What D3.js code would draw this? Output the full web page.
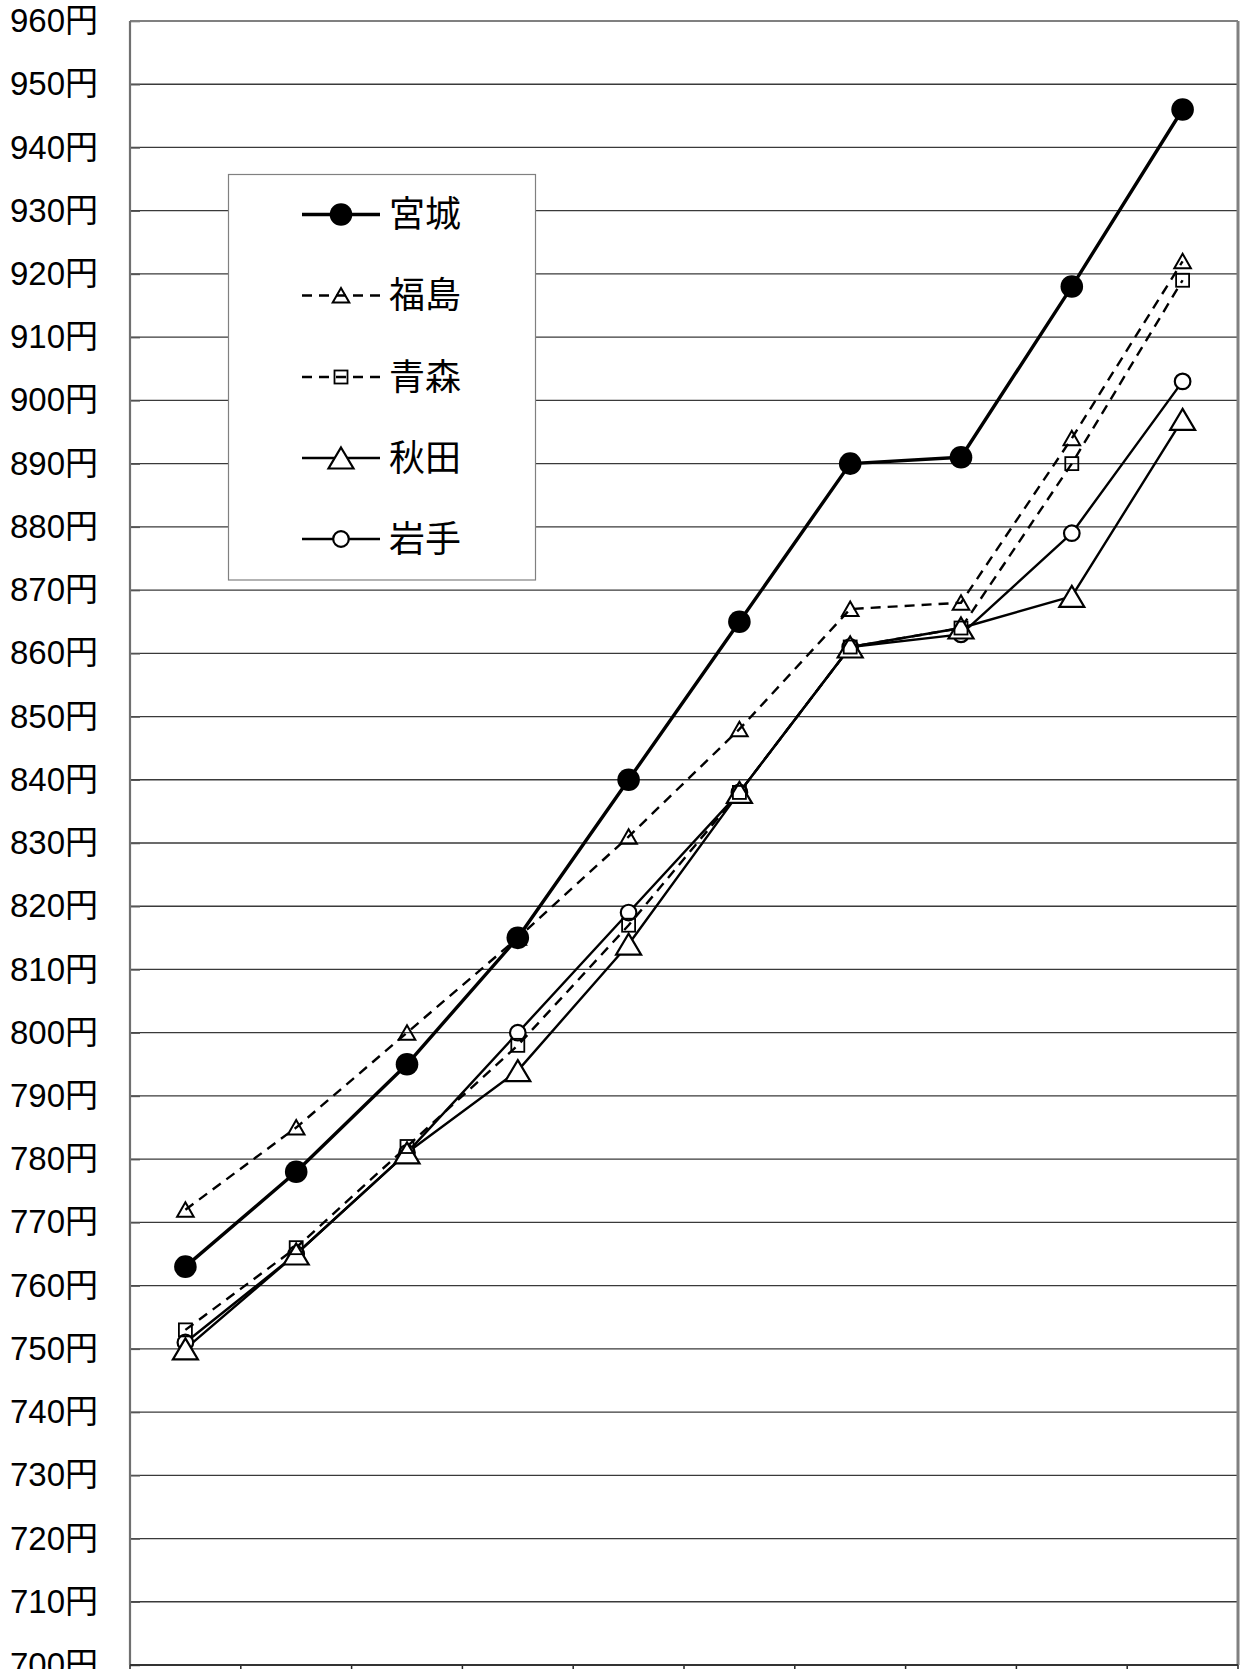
<!DOCTYPE html>
<html><head><meta charset="utf-8">
<script src="https://cdn.jsdelivr.net/npm/d3@7"></script>
<style>html,body{margin:0;padding:0;background:#fff} svg{display:block}</style>
</head><body><svg id="chart" width="1243" height="1669"></svg>
<script>
// ---- data ----
const categories = ["1","2","3","4","5","6","7","8","9","10"];
const miyagi    = [763,778,795,815,840,865,890,891,918,946];
const fukushima = [772,785,800,815,831,848,867,868,894,922];
const aomori    = [753,766,782,798,817,838,861,864,890,919];
const akita     = [750,765,781,794,814,838,861,864,869,897];
const iwate     = [751,765,781,800,819,838,861,863,879,903];
const seriesNames = ["宮城","福島","青森","秋田","岩手"];
const yTickValues = [700,710,720,730,740,750,760,770,780,790,800,810,820,830,840,850,860,870,880,890,900,910,920,930,940,950,960];
const yUnit = "円";

(function () {
// ---- styles ----
const seriesData = [miyagi, fukushima, aomori, akita, iwate];
const styles = [
  {width:3.4, dash:null,   marker:"bigdot"},
  {width:2.4, dash:"10,7", marker:"smalltri"},
  {width:2.4, dash:"10,7", marker:"square"},
  {width:2.4, dash:null,   marker:"bigtri"},
  {width:2.4, dash:null,   marker:"circle"}
];

const svg = d3.select("#chart");
const pL = 130, pR = 1238, pT = 21, pB = 1665;

const x = d3.scaleBand().domain(categories).range([pL, pR]).padding(0);
const y = d3.scaleLinear().domain([700, 960]).range([pB, pT]);
const cx = c => x(c) + x.bandwidth() / 2;

// gridlines
svg.append("g").selectAll("line").data(yTickValues.filter(v => v > 700 && v < 960))
  .join("line")
  .attr("x1", pL).attr("x2", pR)
  .attr("y1", d => y(d)).attr("y2", d => y(d))
  .attr("stroke", "#3a3a3a").attr("stroke-width", 1.3);

// y axis (labels + inner ticks)
const yAxis = d3.axisLeft(y).tickValues(yTickValues).tickFormat(d => d + yUnit)
  .tickSizeInner(-10).tickSizeOuter(0).tickPadding(32);
const gy = svg.append("g").attr("transform", `translate(${pL},0)`).call(yAxis);
gy.select(".domain").remove();
gy.selectAll(".tick line").attr("stroke", "#555").attr("stroke-width", 1.5);
gy.selectAll(".tick text")
  .attr("font-family", "'Liberation Sans','Noto Sans CJK JP',sans-serif")
  .attr("font-size", 33).attr("fill", "#000");

// frame
svg.append("line").attr("x1", pL).attr("x2", pR).attr("y1", pT).attr("y2", pT)
  .attr("stroke", "#808080").attr("stroke-width", 2);
svg.append("line").attr("x1", pR).attr("x2", pR).attr("y1", pT).attr("y2", pB)
  .attr("stroke", "#808080").attr("stroke-width", 3);
svg.append("line").attr("x1", pL).attr("x2", pL).attr("y1", pT).attr("y2", pB)
  .attr("stroke", "#707070").attr("stroke-width", 2.2);

// x axis (category boundary ticks, labels fall below the visible area)
const boundaries = categories.map(c => x(c)).concat([pR]);
svg.append("g").selectAll("line").data(boundaries).join("line")
  .attr("x1", d => d).attr("x2", d => d).attr("y1", pB).attr("y2", pB + 12)
  .attr("stroke", "#222").attr("stroke-width", 1.5);
svg.append("line").attr("x1", pL).attr("x2", pR).attr("y1", pB).attr("y2", pB)
  .attr("stroke", "#333").attr("stroke-width", 2);

// markers
function drawMarker(g, type, px, py) {
  if (type === "bigdot") {
    g.append("circle").attr("cx", px).attr("cy", py).attr("r", 11.3).attr("fill", "#000");
  } else if (type === "smalltri") {
    g.append("path").attr("d", `M${px},${py-7.5}L${px+8.3},${py+7}L${px-8.3},${py+7}Z`)
      .attr("fill", "none").attr("stroke", "#000").attr("stroke-width", 2);
  } else if (type === "square") {
    g.append("rect").attr("x", px-6.5).attr("y", py-6.5).attr("width", 13).attr("height", 13)
      .attr("fill", "none").attr("stroke", "#000").attr("stroke-width", 1.8);
  } else if (type === "bigtri") {
    g.append("path").attr("d", `M${px},${py-10.5}L${px+12.5},${py+10.5}L${px-12.5},${py+10.5}Z`)
      .attr("fill", "#fff").attr("stroke", "#000").attr("stroke-width", 2.2);
  } else if (type === "circle") {
    g.append("circle").attr("cx", px).attr("cy", py).attr("r", 7.8)
      .attr("fill", "#fff").attr("stroke", "#000").attr("stroke-width", 2.2);
  }
}

const lineGen = d3.line().x((d, i) => cx(categories[i])).y(d => y(d));
const order = [4,3,2,1,0];
const gLines = svg.append("g");
order.forEach(s => {
  gLines.append("path").datum(seriesData[s]).attr("d", lineGen)
    .attr("fill", "none").attr("stroke", "#000").attr("stroke-width", styles[s].width)
    .attr("stroke-dasharray", styles[s].dash).attr("stroke-linejoin", "round");
});
const gMarks = svg.append("g");
order.forEach(s => {
  seriesData[s].forEach((v, i) => drawMarker(gMarks, styles[s].marker, cx(categories[i]), y(v)));
});

// legend
const lg = svg.append("g");
lg.append("rect").attr("x", 228.5).attr("y", 174.5).attr("width", 307).attr("height", 405.5)
  .attr("fill", "#fff").attr("stroke", "#808080").attr("stroke-width", 1.2);
const rowY = [214.5, 295.5, 377, 458, 539];
seriesNames.forEach((name, s) => {
  const yy = rowY[s];
  lg.append("line").attr("x1", 302).attr("x2", 380).attr("y1", yy).attr("y2", yy)
    .attr("stroke", "#000").attr("stroke-width", styles[s].width)
    .attr("stroke-dasharray", styles[s].dash);
  drawMarker(lg, styles[s].marker, 341, yy);
  lg.append("text").attr("x", 389).attr("y", yy).attr("dy", "0.36em")
    .attr("font-family", "'Noto Sans CJK JP',sans-serif").attr("font-size", 36)
    .attr("fill", "#000").text(name);
});
})();
</script>
</body></html>
